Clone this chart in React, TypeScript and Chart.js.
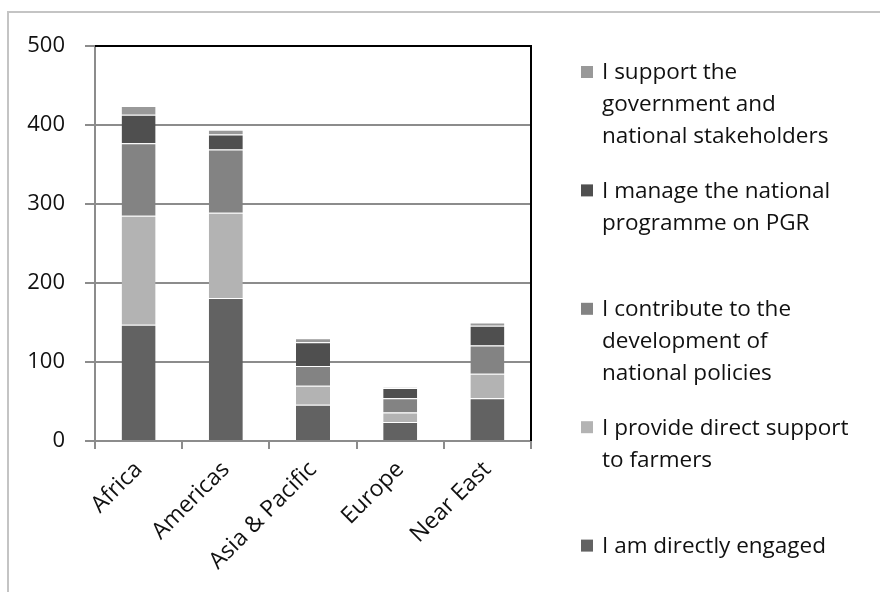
import React, { useEffect, useRef } from "react";
import { Chart, registerables } from "chart.js";

Chart.register(...registerables);

const regions = ["Africa", "Americas", "Asia & Pacific", "Europe", "Near East"];

const directlyEngaged = [147, 181, 46, 24, 54];
const directSupportFarmers = [138, 108, 24, 12, 31];
const nationalPolicies = [92, 80, 25, 18, 36];
const manageProgramme = [36, 19, 30, 13, 25];
const supportGovernment = [11, 6, 5, 1, 4];

const yTicks = [0, 100, 200, 300, 400, 500];

// Legend entries, top to bottom, each split into its wrapped lines
const legendEntries = [
  { lines: ["I support the", "government and", "national stakeholders"], color: "#999999" },
  { lines: ["I manage the national", "programme on PGR"], color: "#4f4f4f" },
  { lines: ["I contribute to the", "development of", "national policies"], color: "#838383" },
  { lines: ["I provide direct support", "to farmers"], color: "#b3b3b3" },
  { lines: ["I am directly engaged"], color: "#626262" },
];

const FONT = "'Open Sans', 'DejaVu Sans', sans-serif";
const TEXT_COLOR = "#111111";

const framePlugin = {
  id: "frame",
  beforeDraw(chart: any) {
    const { ctx } = chart;
    ctx.save();
    ctx.fillStyle = "#ffffff";
    ctx.fillRect(0, 0, chart.width, chart.height);
    ctx.strokeStyle = "#c4c4c4";
    ctx.lineWidth = 2;
    ctx.beginPath();
    ctx.moveTo(8, chart.height + 2);
    ctx.lineTo(8, 12);
    ctx.lineTo(chart.width + 2, 12);
    ctx.stroke();
    ctx.restore();
  },
  afterDraw(chart: any) {
    const { ctx, chartArea } = chart;
    ctx.save();
    // black top and right edges of the plot area
    ctx.strokeStyle = "#000000";
    ctx.lineWidth = 2;
    ctx.beginPath();
    ctx.moveTo(chartArea.left, chartArea.top);
    ctx.lineTo(chartArea.right, chartArea.top);
    ctx.lineTo(chartArea.right, chartArea.bottom);
    ctx.stroke();

    // legend
    const boxX = 581;
    const textX = 602;
    const firstY = 73;
    const step = 118.4;
    const lineH = 32;
    ctx.font = `22.5px ${FONT}`;
    ctx.textBaseline = "middle";
    ctx.textAlign = "left";
    legendEntries.forEach((entry, i) => {
      const y0 = firstY + i * step;
      ctx.fillStyle = entry.color;
      ctx.fillRect(boxX, y0 - 7, 12, 12);
      ctx.fillStyle = TEXT_COLOR;
      entry.lines.forEach((line, j) => {
        ctx.fillText(line, textX, y0 + j * lineH);
      });
    });
    ctx.restore();
  },
};

export default function App() {
  const canvasRef = useRef<HTMLCanvasElement | null>(null);

  useEffect(() => {
    if (!canvasRef.current) return;
    const seg = (label: string, data: number[], color: string) => ({
      label,
      data,
      backgroundColor: color,
      borderColor: "rgba(255,255,255,0.85)",
      borderWidth: { top: 1, left: 0, right: 0, bottom: 0 },
      borderSkipped: false,
      categoryPercentage: 1,
      barPercentage: 0.39,
    });
    const chart = new Chart(canvasRef.current, {
      type: "bar",
      data: {
        labels: regions,
        datasets: [
          seg(legendEntries[4].lines.join(" "), directlyEngaged, legendEntries[4].color),
          seg(legendEntries[3].lines.join(" "), directSupportFarmers, legendEntries[3].color),
          seg(legendEntries[2].lines.join(" "), nationalPolicies, legendEntries[2].color),
          seg(legendEntries[1].lines.join(" "), manageProgramme, legendEntries[1].color),
          seg(legendEntries[0].lines.join(" "), supportGovernment, legendEntries[0].color),
        ],
      },
      options: {
        responsive: false,
        animation: false,
        layout: { padding: { left: 0, top: 46, right: 349, bottom: 0 } },
        plugins: {
          legend: { display: false },
          tooltip: { enabled: false },
        },
        scales: {
          x: {
            stacked: true,
            offset: true,
            grid: {
              offset: true,
              drawOnChartArea: false,
              drawTicks: true,
              tickLength: 8,
              color: "#8c8c8c",
              lineWidth: 2,
            },
            border: { display: true, color: "#8c8c8c", width: 2 },
            ticks: {
              minRotation: 45,
              maxRotation: 45,
              padding: 7,
              color: TEXT_COLOR,
              font: { family: FONT, size: 23 },
            },
            afterFit(scale: any) {
              scale.height = 151;
            },
          },
          y: {
            stacked: true,
            min: 0,
            max: 500,
            afterBuildTicks(scale: any) {
              scale.ticks = yTicks.map((v) => ({ value: v }));
            },
            grid: {
              color: "#8c8c8c",
              lineWidth: 2,
              tickLength: 10,
            },
            border: { display: true, color: "#8c8c8c", width: 2 },
            ticks: {
              padding: 20,
              color: TEXT_COLOR,
              font: { family: FONT, size: 22 },
            },
            afterFit(scale: any) {
              scale.width = 95;
            },
          },
        },
      },
      plugins: [framePlugin],
    });
    return () => chart.destroy();
  }, []);

  return (
    <div style={{ position: "fixed", left: 0, top: 0, width: 880, height: 592, background: "#fff" }}>
      <canvas ref={canvasRef} width={880} height={592} style={{ display: "block" }} />
    </div>
  );
}
